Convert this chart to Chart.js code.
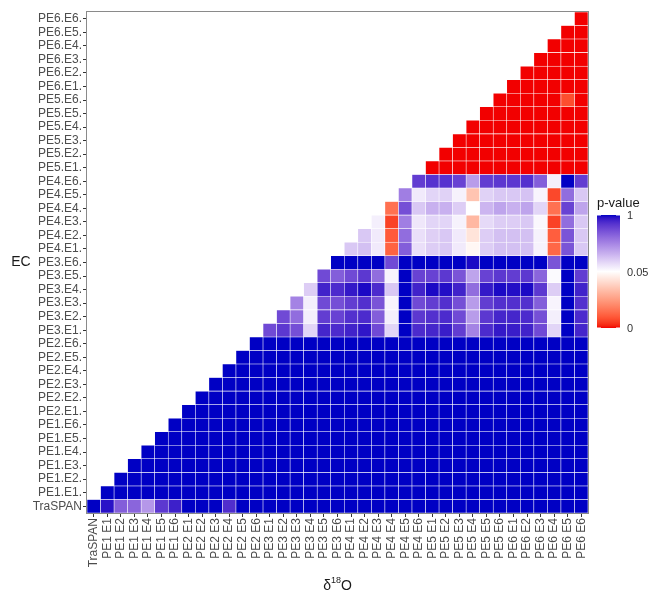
<!DOCTYPE html>
<html>
<head>
<meta charset="utf-8">
<script src="https://cdn.jsdelivr.net/npm/chart.js@4.4.0/dist/chart.umd.min.js"></script>
<style>
  html, body { margin: 0; padding: 0; background: #fff; }
  #chart { display: block; }
</style>
</head>
<body>
<canvas id="chart" width="648" height="596"></canvas>
<script>
// categories
const colLabels = ['TraSPAN',
  'PE1 E1', 'PE1 E2', 'PE1 E3', 'PE1 E4', 'PE1 E5', 'PE1 E6',
  'PE2 E1', 'PE2 E2', 'PE2 E3', 'PE2 E4', 'PE2 E5', 'PE2 E6',
  'PE3 E1', 'PE3 E2', 'PE3 E3', 'PE3 E4', 'PE3 E5', 'PE3 E6',
  'PE4 E1', 'PE4 E2', 'PE4 E3', 'PE4 E4', 'PE4 E5', 'PE4 E6',
  'PE5 E1', 'PE5 E2', 'PE5 E3', 'PE5 E4', 'PE5 E5', 'PE5 E6',
  'PE6 E1', 'PE6 E2', 'PE6 E3', 'PE6 E4', 'PE6 E5', 'PE6 E6'];
const rowLabels = ['TraSPAN',
  'PE1.E1.', 'PE1.E2.', 'PE1.E3.', 'PE1.E4.', 'PE1.E5.', 'PE1.E6.',
  'PE2.E1.', 'PE2.E2.', 'PE2.E3.', 'PE2.E4.', 'PE2.E5.', 'PE2.E6.',
  'PE3.E1.', 'PE3.E2.', 'PE3.E3.', 'PE3.E4.', 'PE3.E5.', 'PE3.E6.',
  'PE4.E1.', 'PE4.E2.', 'PE4.E3.', 'PE4.E4.', 'PE4.E5.', 'PE4.E6.',
  'PE5.E1.', 'PE5.E2.', 'PE5.E3.', 'PE5.E4.', 'PE5.E5.', 'PE5.E6.',
  'PE6.E1.', 'PE6.E2.', 'PE6.E3.', 'PE6.E4.', 'PE6.E5.', 'PE6.E6.'];

// p-values, each row starts at its own column (diagonal) and runs to PE6 E6
const rowTraSPAN = [1, 0.96, 0.68, 0.65, 0.45, 0.83, 0.92, 1, 1, 1, 0.87,
  1, 1, 1, 1, 1,  1, 1, 1, 1, 1,  1, 1, 1, 1, 1,  1, 1, 1, 1, 1,  1, 1, 1, 1, 1,  1];

const rowsPE1 = [
  [1, 1, 1, 1, 1,  1, 1, 1, 1, 1,  1, 1, 1, 1, 1,  1, 1, 1, 1, 1,  1, 1, 1, 1, 1,  1, 1, 1, 1, 1,  1, 1, 1, 1, 1,  1],
  [1, 1, 1, 1, 1,  1, 1, 1, 1, 1,  1, 1, 1, 1, 1,  1, 1, 1, 1, 1,  1, 1, 1, 1, 1,  1, 1, 1, 1, 1,  1, 1, 1, 1, 1],
  [1, 1, 1, 1, 1,  1, 1, 1, 1, 1,  1, 1, 1, 1, 1,  1, 1, 1, 1, 1,  1, 1, 1, 1, 1,  1, 1, 1, 1, 1,  1, 1, 1, 1],
  [1, 1, 1, 1, 1,  1, 1, 1, 1, 1,  1, 1, 1, 1, 1,  1, 1, 1, 1, 1,  1, 1, 1, 1, 1,  1, 1, 1, 1, 1,  1, 1, 1],
  [1, 1, 1, 1, 1,  1, 1, 1, 1, 1,  1, 1, 1, 1, 1,  1, 1, 1, 1, 1,  1, 1, 1, 1, 1,  1, 1, 1, 1, 1,  1, 1],
  [1, 1, 1, 1, 1,  1, 1, 1, 1, 1,  1, 1, 1, 1, 1,  1, 1, 1, 1, 1,  1, 1, 1, 1, 1,  1, 1, 1, 1, 1,  1]
];
const rowsPE2 = [
  [1, 1, 1, 1, 1,  1, 1, 1, 1, 1,  1, 1, 1, 1, 1,  1, 1, 1, 1, 1,  1, 1, 1, 1, 1,  1, 1, 1, 1, 1],
  [1, 1, 1, 1, 1,  1, 1, 1, 1, 1,  1, 1, 1, 1, 1,  1, 1, 1, 1, 1,  1, 1, 1, 1, 1,  1, 1, 1, 1],
  [1, 1, 1, 1, 1,  1, 1, 1, 1, 1,  1, 1, 1, 1, 1,  1, 1, 1, 1, 1,  1, 1, 1, 1, 1,  1, 1, 1],
  [1, 1, 1, 1, 1,  1, 1, 1, 1, 1,  1, 1, 1, 1, 1,  1, 1, 1, 1, 1,  1, 1, 1, 1, 1,  1, 1],
  [1, 1, 1, 1, 1,  1, 1, 1, 1, 1,  1, 1, 1, 1, 1,  1, 1, 1, 1, 1,  1, 1, 1, 1, 1,  1],
  [1, 1, 1, 1, 1,  1, 1, 1, 1, 1,  1, 1, 1, 1, 1,  1, 1, 1, 1, 1,  1, 1, 1, 1, 1]
];
const rowsPE3 = [
  [0.76, 0.83, 0.74, 0.21, 0.90, 0.88, 0.91, 0.95, 0.76, 0.21, 1, 0.88, 0.90, 0.93, 0.81, 0.53, 0.88, 0.94, 0.93, 0.91, 0.76, 0.21, 1, 0.90],
  [0.76, 0.62, 0.11, 0.81, 0.79, 0.86, 0.88, 0.68, 0.11, 1, 0.83, 0.86, 0.88, 0.76, 0.43, 0.83, 0.90, 0.90, 0.88, 0.74, 0.11, 1, 0.88],
  [0.53, 0.11, 0.76, 0.74, 0.81, 0.86, 0.72, 0.09, 1, 0.76, 0.81, 0.86, 0.74, 0.43, 0.81, 0.86, 0.86, 0.86, 0.68, 0.09, 1, 0.86],
  [0.24, 0.91, 0.88, 0.94, 0.98, 0.88, 0.26, 1, 0.91, 0.98, 0.97, 0.91, 0.62, 0.94, 0.98, 0.97, 0.98, 0.83, 0.24, 1, 0.91],
  [0.76, 0.68, 0.76, 0.83, 0.62, 0.09, 1, 0.79, 0.79, 0.83, 0.72, 0.40, 0.79, 0.83, 0.81, 0.83, 0.65, 0.07, 1, 0.81],
  [1, 1, 1, 1, 0.76, 1, 1, 1, 1, 1, 0.98, 1, 1, 1, 1, 1, 0.72, 1, 1]
];
const rowsPE4 = [
  [0.26, 0.29, 0.13, 0.012, 0.68, 0.17, 0.24, 0.26, 0.13, 0.048, 0.24, 0.29, 0.29, 0.29, 0.10, 0.013, 0.72, 0.26],
  [0.26, 0.13, 0.010, 0.62, 0.17, 0.23, 0.26, 0.13, 0.043, 0.24, 0.29, 0.29, 0.29, 0.10, 0.011, 0.72, 0.26],
  [0.11, 0.006, 0.55, 0.14, 0.21, 0.21, 0.10, 0.032, 0.19, 0.24, 0.24, 0.26, 0.08, 0.006, 0.62, 0.26],
  [0.015, 0.74, 0.26, 0.35, 0.35, 0.24, 0.05, 0.33, 0.40, 0.35, 0.40, 0.21, 0.015, 0.79, 0.40],
  [0.55, 0.13, 0.21, 0.22, 0.10, 0.035, 0.22, 0.26, 0.26, 0.28, 0.09, 0.007, 0.62, 0.26],
  [0.81, 0.85, 0.85, 0.79, 0.43, 0.81, 0.83, 0.83, 0.86, 0.68, 0.11, 1, 0.81]
];
const rowsPE5 = [
  [0, 0, 0, 0, 0, 0, 0, 0, 0, 0, 0, 0],
  [0, 0, 0, 0, 0, 0, 0, 0, 0, 0, 0],
  [0, 0, 0, 0, 0, 0, 0, 0, 0, 0],
  [0, 0, 0, 0, 0, 0, 0, 0, 0],
  [0, 0, 0, 0, 0, 0, 0, 0],
  [0, 0, 0, 0, 0, 0.008, 0]
];
const rowsPE6 = [
  [0, 0, 0, 0, 0, 0],
  [0, 0, 0, 0, 0],
  [0, 0, 0, 0],
  [0, 0, 0],
  [0, 0],
  [0]
];
const legendTicks = [1, 0.05, 0];

const allRows = [rowTraSPAN, ...rowsPE1, ...rowsPE2, ...rowsPE3, ...rowsPE4, ...rowsPE5, ...rowsPE6];

// colour scale: red (0) -> white (0.05) -> blue (1), interpolated in Lab like ggplot
const LOW = [242, 0, 0], MID = [255, 255, 255], HIGH = [0, 0, 196];

function toLinear(c) { c /= 255; return c <= 0.04045 ? c / 12.92 : Math.pow((c + 0.055) / 1.055, 2.4); }
function toSrgb(c) {
  c = c <= 0.0031308 ? 12.92 * c : 1.055 * Math.pow(c, 1 / 2.4) - 0.055;
  return Math.round(Math.min(1, Math.max(0, c)) * 255);
}
function rgbToLab(rgb) {
  const r = toLinear(rgb[0]), g = toLinear(rgb[1]), b = toLinear(rgb[2]);
  const x = (0.4124 * r + 0.3576 * g + 0.1805 * b) / 0.95047;
  const y = 0.2126 * r + 0.7152 * g + 0.0722 * b;
  const z = (0.0193 * r + 0.1192 * g + 0.9505 * b) / 1.08883;
  const f = t => t > 0.008856 ? Math.cbrt(t) : 7.787 * t + 16 / 116;
  const fx = f(x), fy = f(y), fz = f(z);
  return [116 * fy - 16, 500 * (fx - fy), 200 * (fy - fz)];
}
function labToRgb(lab) {
  const fy = (lab[0] + 16) / 116, fx = fy + lab[1] / 500, fz = fy - lab[2] / 200;
  const inv = t => t * t * t > 0.008856 ? t * t * t : (t - 16 / 116) / 7.787;
  const x = inv(fx) * 0.95047, y = inv(fy), z = inv(fz) * 1.08883;
  return [
    toSrgb(3.2406 * x - 1.5372 * y - 0.4986 * z),
    toSrgb(-0.9689 * x + 1.8758 * y + 0.0415 * z),
    toSrgb(0.0557 * x - 0.2040 * y + 1.0570 * z)
  ];
}
const labLow = rgbToLab(LOW), labMid = rgbToLab(MID), labHigh = rgbToLab(HIGH);

function mixLab(a, b, f) {
  const c = labToRgb([a[0] + (b[0] - a[0]) * f, a[1] + (b[1] - a[1]) * f, a[2] + (b[2] - a[2]) * f]);
  return 'rgb(' + c.join(',') + ')';
}
function pToT(p) {
  return p <= 0.05 ? 0.5 * p / 0.05 : 0.5 + 0.5 * (p - 0.05) / 0.95;
}
function tColor(t) {
  return t < 0.5 ? mixLab(labLow, labMid, t / 0.5) : mixLab(labMid, labHigh, (t - 0.5) / 0.5);
}
function pColor(p) { return tColor(pToT(p)); }

const FONT = '"Liberation Sans", Arial, sans-serif';

const datasets = allRows.map((row, i) => {
  const first = colLabels.length - row.length;
  if (first !== i) console.warn('row length mismatch', rowLabels[i]);
  return {
    label: rowLabels[i],
    data: colLabels.map((_, j) => j < first ? null : [i - 0.5, i + 0.5]),
    backgroundColor: colLabels.map((_, j) => j < first ? 'rgba(0,0,0,0)' : pColor(row[j - first])),
    borderColor: 'rgba(255,255,255,0.55)',
    borderWidth: 0.6,
    borderSkipped: false,
    grouped: false,
    barPercentage: 1,
    categoryPercentage: 1
  };
});

// panel border, axis titles and the colour bar
const decorations = {
  id: 'decorations',
  afterDatasetsDraw(chart) {
    const ctx = chart.ctx, ca = chart.chartArea;
    ctx.save();
    ctx.strokeStyle = '#8a8a8a';
    ctx.lineWidth = 1;
    ctx.strokeRect(ca.left - 0.5, ca.top - 0.5, ca.right - ca.left + 1, ca.bottom - ca.top + 1);
    ctx.restore();
  },
  afterDraw(chart) {
    const ctx = chart.ctx, ca = chart.chartArea;
    ctx.save();

    // y title
    ctx.fillStyle = '#1a1a1a';
    ctx.font = '14px ' + FONT;
    ctx.textAlign = 'center';
    ctx.textBaseline = 'middle';
    ctx.fillText('EC', 21, (ca.top + ca.bottom) / 2);

    // x title: delta 18 O
    const big = '14px ' + FONT, small = '9px ' + FONT;
    ctx.textBaseline = 'alphabetic';
    ctx.textAlign = 'left';
    ctx.font = big; const wd = ctx.measureText('δ').width; const wo = ctx.measureText('O').width;
    ctx.font = small; const ws = ctx.measureText('18').width;
    let x = (ca.left + ca.right) / 2 - (wd + ws + wo) / 2;
    const base = 590;
    ctx.font = big; ctx.fillText('δ', x, base); x += wd;
    ctx.font = small; ctx.fillText('18', x, base - 7); x += ws;
    ctx.font = big; ctx.fillText('O', x, base);

    // colour bar legend
    const bx = ca.right + 9, by = 215, bw = 23, bh = 113;
    ctx.font = '13px ' + FONT;
    ctx.fillStyle = '#1a1a1a';
    ctx.textBaseline = 'alphabetic';
    ctx.fillText('p-value', bx, by - 8);
    const grad = ctx.createLinearGradient(0, by + bh, 0, by);
    for (let k = 0; k <= 50; k++) grad.addColorStop(k / 50, tColor(k / 50));
    ctx.fillStyle = grad;
    ctx.fillRect(bx, by, bw, bh);
    ctx.font = '11px ' + FONT;
    ctx.textBaseline = 'middle';
    ctx.strokeStyle = '#ffffff';
    ctx.lineWidth = 1;
    legendTicks.forEach(v => {
      const yy = by + bh * (1 - pToT(v));
      ctx.beginPath();
      ctx.moveTo(bx, yy); ctx.lineTo(bx + 4, yy);
      ctx.moveTo(bx + bw - 4, yy); ctx.lineTo(bx + bw, yy);
      ctx.stroke();
      ctx.fillStyle = '#333333';
      ctx.fillText(String(v), bx + bw + 7, yy + 1);
    });
    ctx.restore();
  }
};

new Chart(document.getElementById('chart'), {
  type: 'bar',
  data: { labels: colLabels, datasets: datasets },
  options: {
    responsive: false,
    animation: false,
    devicePixelRatio: 1,
    layout: { padding: { left: 0, right: 60, top: 12, bottom: 0 } },
    plugins: { legend: { display: false }, tooltip: { enabled: false } },
    scales: {
      x: {
        type: 'category',
        offset: true,
        grid: { offset: false, drawOnChartArea: false, drawTicks: true, tickLength: 4, color: '#333333' },
        border: { display: false },
        ticks: {
          autoSkip: false, maxRotation: 90, minRotation: 90, padding: 1,
          color: '#4d4d4d', font: { family: FONT, size: 12 }
        },
        afterFit: s => { s.height = 83; }
      },
      y: {
        type: 'linear',
        min: -0.5,
        max: 36.5,
        grid: { drawOnChartArea: false, drawTicks: true, tickLength: 4, color: '#333333' },
        border: { display: false },
        afterBuildTicks: s => { s.ticks = rowLabels.map((_, i) => ({ value: i })); },
        ticks: {
          autoSkip: false, padding: 1,
          color: '#4d4d4d', font: { family: FONT, size: 12 },
          callback: v => rowLabels[v]
        },
        afterFit: s => { s.width = 87; }
      }
    }
  },
  plugins: [decorations]
});
</script>
</body>
</html>
